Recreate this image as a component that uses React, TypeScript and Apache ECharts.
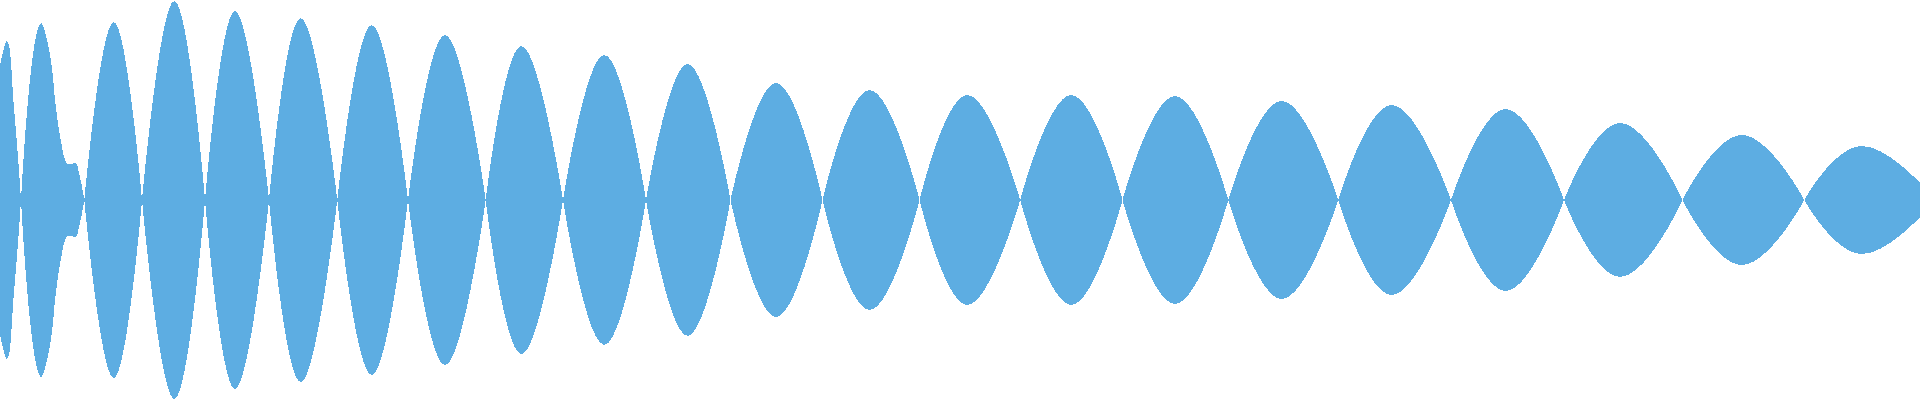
import * as echarts from 'echarts'
import { useEffect, useRef } from 'react'

// zero crossings of the envelope, left to right (px along the x axis)
const zeroCrossings = [
  21, 84.3, 142, 205, 269, 337.3, 408, 485.7, 563, 646, 730.5, 822.5, 919.6, 1020.2, 1122.5, 1228.3, 1338.3,
  1451, 1564, 1682.5, 1804.3,
]

// one peak between each pair of crossings, starting with the third lobe
const peakPositions = [
  113.7, 174.3, 235, 300.7, 371.7, 445, 521.4, 604.3, 687.6, 776.1, 869.6, 967.3, 1071.3, 1175, 1281.7, 1391.7,
  1505.7, 1620, 1741.7,
]
const peakHeights = [178, 199, 189, 182, 175, 165, 154, 145, 136, 117, 110, 105, 105, 104, 99, 95, 91, 77, 65]

// the first two lobes and the cut-off last one are read point by point
const openingLobe = [
  [0, 135],
  [6.7, 159],
  [14, 92],
  [21, 0],
]
const shoulderLobe = [
  [21, 0],
  [41.3, 177],
  [50, 145],
  [56, 92],
  [62, 53],
  [66, 38],
  [70, 36],
  [75, 37],
  [79, 27],
  [84.3, 0],
]
const closingLobe = [
  [1804.3, 0],
  [1862, 54],
  [1920, 17],
]

const fillColor = '#5dade2'

function buildLobes(sign: number) {
  const lobes: number[][][] = [openingLobe, shoulderLobe]
  peakPositions.forEach((peak, i) => {
    lobes.push([
      [zeroCrossings[i + 1], 0],
      [peak, peakHeights[i]],
      [zeroCrossings[i + 2], 0],
    ])
  })
  lobes.push(closingLobe)

  const data: (number | string)[][] = []
  lobes.forEach((lobe) => {
    lobe.forEach(([x, y]) => data.push([x, sign * y]))
    // break the line so every crossing stays pointed
    data.push([lobe[lobe.length - 1][0], '-'])
  })
  return data
}

function envelopeSeries(sign: number) {
  return {
    type: 'line',
    data: buildLobes(sign),
    smooth: 0.45,
    showSymbol: false,
    silent: true,
    connectNulls: false,
    lineStyle: { width: 0, color: fillColor },
    areaStyle: { color: fillColor, opacity: 1 },
  }
}

export default function App() {
  const chartRef = useRef<HTMLDivElement>(null)

  useEffect(() => {
    const element = chartRef.current
    if (!element) return
    const instance = echarts.init(element, null, { renderer: 'svg' })
    instance.setOption({
      animation: false,
      backgroundColor: '#ffffff',
      grid: { left: 0, right: 0, top: 0, bottom: 0, containLabel: false },
      xAxis: { type: 'value', min: 0, max: 1920, show: false },
      yAxis: { type: 'value', min: -200, max: 200, show: false },
      series: [envelopeSeries(1), envelopeSeries(-1)],
    })
    return () => instance.dispose()
  }, [])

  return (
    <div
      ref={chartRef}
      // the reference has hard, non-antialiased edges
      style={{ position: 'absolute', left: 0, top: 0, width: 1920, height: 400, shapeRendering: 'crispEdges' }}
    />
  )
}
